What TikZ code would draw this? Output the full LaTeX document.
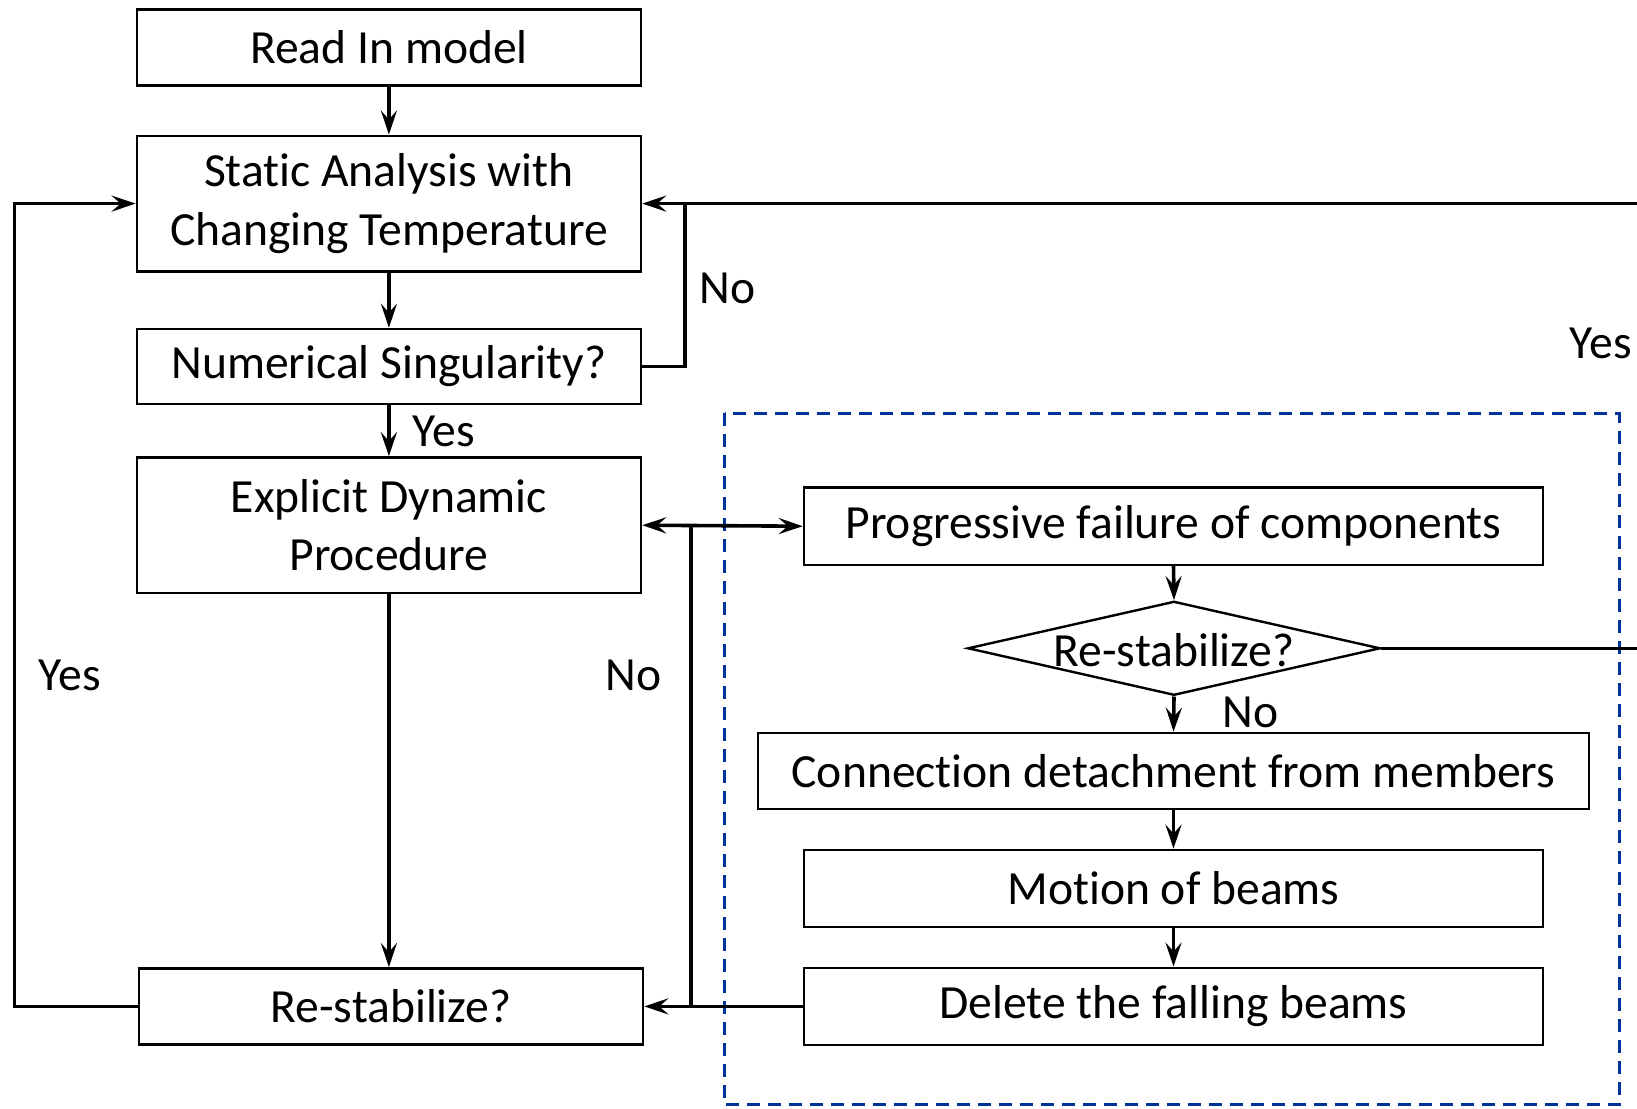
\documentclass[tikz,border=0pt]{standalone}
\usepackage{fontspec}
\setmainfont{Carlito}[Ligatures={NoCommon}]
\usetikzlibrary{arrows.meta,shapes.geometric}
\definecolor{dashblue}{RGB}{0,51,153}
\begin{document}
\begin{tikzpicture}[x=1pt,y=-1pt,
  box/.style={draw,line width=2.4pt,inner sep=0pt,align=center,font=\fontsize{47.6}{58.5}\selectfont},
  dia/.style={draw,line width=2.4pt,diamond,inner sep=0pt},
  lbl/.style={inner sep=0pt,font=\fontsize{47.6}{58.5}\selectfont},
  line/.style={line width=3.6pt},
  arr/.style={line width=3.6pt,-{Stealth[length=24pt,width=16pt,inset=9pt]}},
  darr/.style={line width=3.6pt,{Stealth[length=24pt,width=16pt,inset=9pt]}-{Stealth[length=24pt,width=16pt,inset=9pt]}}
]
\useasboundingbox (0,0) rectangle (1637,1108);
% dashed region
\draw[dashblue,line width=3pt,dash pattern=on 13pt off 8pt] (724.5,413.4) rectangle (1619.2,1104.6);
% left column
\node[box,minimum width=504.2pt,minimum height=76.2pt] (read) at (388.9,47.5) {Read In model};
\node[box,minimum width=504.2pt,minimum height=135.7pt] (static) at (388.9,203.6) {Static Analysis with\\Changing Temperature};
\node[box,minimum width=504.2pt,minimum height=75.1pt] (num) at (388.9,366.5) {Numerical Singularity?};
\node[box,minimum width=504.2pt,minimum height=135.7pt] (exp) at (388.9,525.2) {Explicit Dynamic\\Procedure};
\node[box,minimum width=504.2pt,minimum height=76.2pt] (rs) at (391,1006.4) {Re-stabilize?};
% right column
\node[box,minimum width=739.1pt,minimum height=77.3pt] (prog) at (1173.5,526.2) {Progressive failure of components};
\node[dia,minimum width=412.4pt,minimum height=94pt] (dia) at (1174,648.3) {};
\node[lbl] (dialbl) at (1174,650) {Re-stabilize?};
\node[box,minimum width=831pt,minimum height=76.2pt] (conn) at (1173.5,771) {Connection detachment from members};
\node[box,minimum width=739.1pt,minimum height=77.3pt] (mot) at (1173.5,888.5) {Motion of beams};
\node[box,minimum width=739.1pt,minimum height=77.3pt] (del) at (1173.5,1006.4) {Delete the falling beams};
% coordinates
\coordinate (nojoin) at (684.9,203.6);
\coordinate (redge1) at (1637,203.6);
\coordinate (redge2) at (1637,648.3);
\coordinate (lcorner) at (14.6,1006.4);
\coordinate (vtop) at (691.1,526.2);
\coordinate (vbot) at (691.1,1006.4);
% main flow
\draw[arr] (read.south) -- (static.north);
\draw[arr] (static.south) -- (num.north);
\draw[arr] (num.south) -- (exp.north);
\draw[arr] (exp.south) -- (exp.south |- rs.north);
\draw[arr] (num.east) -| (nojoin) -- (static.east);
\draw[line] (redge1) -- (nojoin);
\draw[arr] (rs.west) -- (lcorner) |- (static.west);
\draw[darr] (exp.east) -- (prog.west);
\draw[line] (vtop) -- (vbot);
\draw[arr] (del.west) -- (rs.east);
% right flow
\draw[arr] (prog.south) -- (dia.north);
\draw[arr] (dia.south) -- (conn.north);
\draw[arr] (conn.south) -- (mot.north);
\draw[arr] (mot.south) -- (del.north);
\draw[line] (dia.east) -- (redge2);
% labels
\node[lbl] (l1) at (727.7,288) {No};
\node[lbl] (l2) at (1601,343.5) {Yes};
\node[lbl] (l3) at (443.7,431) {Yes};
\node[lbl] (l4) at (70,675.5) {Yes};
\node[lbl] (l5) at (633.7,675.5) {No};
\node[lbl] (l6) at (1250.7,712) {No};
\end{tikzpicture}
\end{document}
